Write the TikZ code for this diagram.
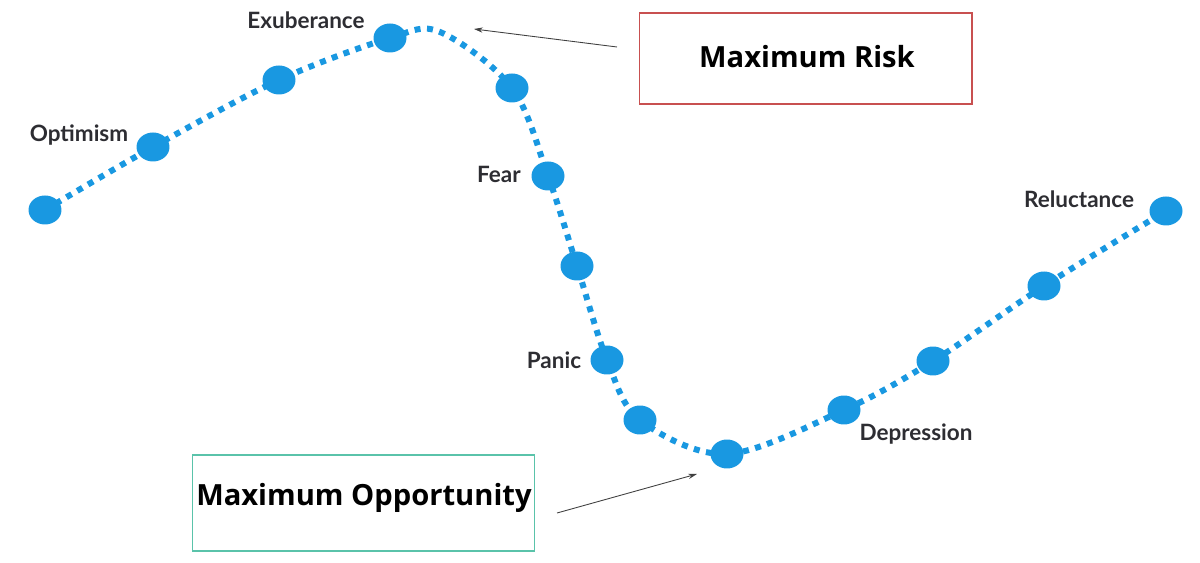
\documentclass[tikz,border=0pt]{standalone}
\usepackage{fontspec}
\setmainfont{Open Sans}
\newfontfamily\labelfont{Lato}
\usetikzlibrary{arrows.meta,shapes.geometric}
\definecolor{dotblue}{RGB}{25,152,225}
\definecolor{riskred}{RGB}{200,80,80}
\definecolor{oppteal}{RGB}{90,195,170}
\definecolor{labgray}{RGB}{45,45,50}
\tikzset{
  dotnode/.style={ellipse, fill=dotblue, minimum width=0.66cm, minimum height=0.58cm, inner sep=0pt},
  curvestyle/.style={draw=dotblue, line width=0.12cm, dash pattern=on 0.12cm off 0.13cm},
  lab/.style={font=\labelfont\bfseries\fontsize{12.8}{15}\selectfont, text=labgray, inner sep=0pt},
  boxtext/.style={font=\fontsize{16.6}{20}\selectfont\bfseries, inner sep=0pt},
  pointer/.style={draw=black!75, line width=0.5pt, -{Stealth[length=5pt,width=3pt]}}
}
\begin{document}
\begin{tikzpicture}[x=0.02cm,y=-0.02cm]
\useasboundingbox (0,0) rectangle (1200,563);
% curve coordinates
\coordinate (c1) at (45,210);
\coordinate (c2) at (153,147);
\coordinate (c3) at (279,80);
\coordinate (c4) at (390,38);
\coordinate (p45) at (440,32);
\coordinate (c5) at (512,88);
\coordinate (c6) at (548,176);
\coordinate (c7) at (577,266);
\coordinate (c8) at (607,360);
\coordinate (c9) at (640,420);
\coordinate (c10) at (727,454);
\coordinate (c11) at (844,410);
\coordinate (c12) at (933,361);
\coordinate (c13) at (1044,286);
\coordinate (c14) at (1166,211);
\draw[curvestyle] plot[smooth, tension=0.55] coordinates {(c1) (c2) (c3) (c4) (p45) (c5) (c6) (c7) (c8) (c9) (c10) (c11) (c12) (c13) (c14)};
\foreach \i in {1,...,14} \node[dotnode] (d\i) at (c\i) {};
% labels
\node[lab] (lexu) at (306,20) {Exuberance};
\node[lab] (lopt) at (79,135) {Optimism};
\node[lab] (lfear) at (499,174) {Fear};
\node[lab] (lpan) at (554,360) {Panic};
\node[lab] (lrel) at (1079,199) {Reluctance};
\node[lab] (ldep) at (916,434) {Depression};
% boxes
\node[draw=riskred, line width=0.6pt, minimum width=6.66cm, minimum height=1.82cm, inner sep=0pt] (risk) at (805.5,58.5) {};
\node[boxtext] (risktext) at (807,57) {Maximum Risk};
\node[draw=oppteal, line width=0.6pt, minimum width=6.86cm, minimum height=1.92cm, inner sep=0pt] (opp) at (363.5,503) {};
\node[boxtext] (opptext) at (364,498) {Maximum Opportunity};
% pointers
\coordinate (a1s) at (617,47);
\coordinate (a1e) at (474,29);
\coordinate (a2s) at (557,513);
\coordinate (a2e) at (697,474);
\draw[pointer] (a1s) -- (a1e);
\draw[pointer] (a2s) -- (a2e);
\end{tikzpicture}
\end{document}
